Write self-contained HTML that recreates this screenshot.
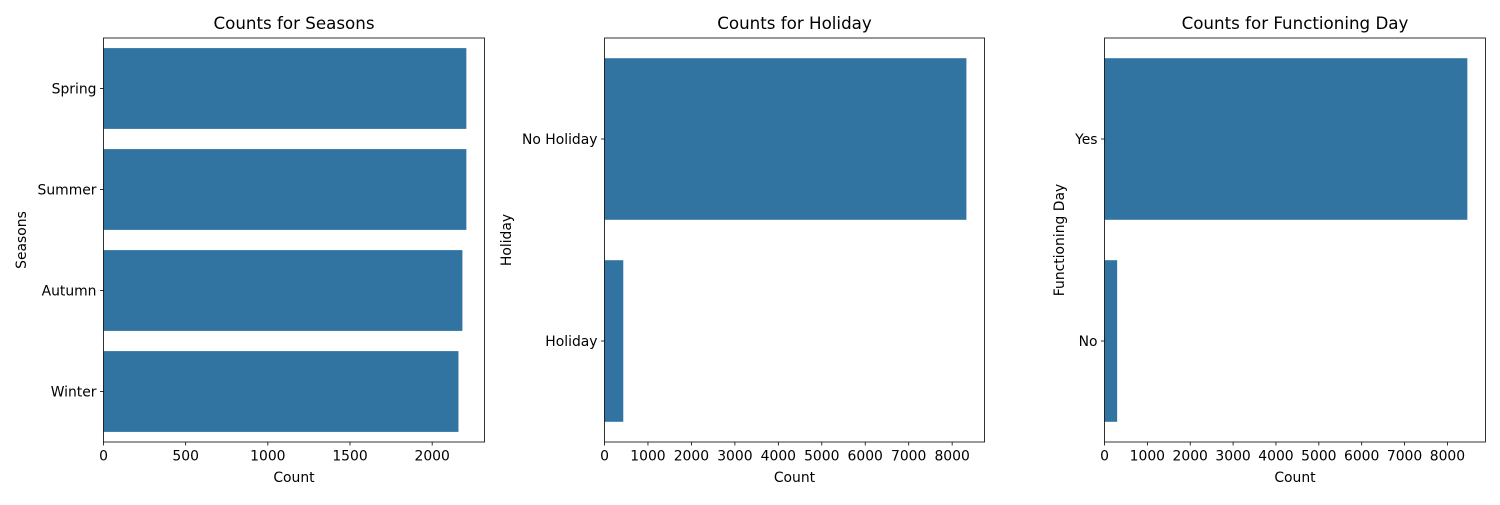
<!DOCTYPE html>
<html><head><meta charset="utf-8"><style>
body{margin:0;background:#fff;}
svg{font-family:"DejaVu Sans","Liberation Sans",sans-serif;}
</style></head><body>
<svg id="chart" width="1500" height="500" xmlns="http://www.w3.org/2000/svg"></svg>
<script>
const seasonCats=["Spring","Summer","Autumn","Winter"];
const seasonVals=[2208,2208,2184,2160];
const seasonTicks=[0,500,1000,1500,2000];
const holidayCats=["No Holiday","Holiday"];
const holidayVals=[8328,432];
const holidayTicks=[0,1000,2000,3000,4000,5000,6000,7000,8000];
const funcCats=["Yes","No"];
const funcVals=[8465,295];
const funcTicks=[0,1000,2000,3000,4000,5000,6000,7000,8000];

const svg=document.getElementById('chart');
const NS='http://www.w3.org/2000/svg';
function mk(tag,attrs,parent,text){const e=document.createElementNS(NS,tag);for(const k in attrs)e.setAttribute(k,attrs[k]);if(text!==undefined)e.textContent=text;(parent||svg).appendChild(e);return e;}

const panels=[
 {left:103.5,right:484.5,title:"Counts for Seasons",ylab:"Seasons",ylabX:26,cats:seasonCats,vals:seasonVals,ticks:seasonTicks,slug:"seasons"},
 {left:604.5,right:984.5,title:"Counts for Holiday",ylab:"Holiday",ylabX:511,cats:holidayCats,vals:holidayVals,ticks:holidayTicks,slug:"holiday"},
 {left:1104.5,right:1485.5,title:"Counts for Functioning Day",ylab:"Functioning Day",ylabX:1064,cats:funcCats,vals:funcVals,ticks:funcTicks,slug:"functioning-day"}
];
const plotTop=38, plotBottom=442;
const TF='13.9', HF='16.7';
panels.forEach(p=>{
  const g=mk('g',{},svg);
  
  
  const xmax=Math.max(...p.vals)*1.05;
  const xs=v=>p.left+(v/xmax)*(p.right-p.left);
  const n=p.cats.length, band=(plotBottom-plotTop)/n;
  const ys=i=>plotTop+band*i;
  p.cats.forEach((c,i)=>{
    const r=mk('rect',{x:xs(0),y:ys(i)+band*0.1,width:xs(p.vals[i])-xs(0),height:band*0.8,fill:'#3274a1'},g);
    
    
    const yc=ys(i)+band/2;
    mk('line',{x1:p.left-3.5,x2:p.left,y1:yc,y2:yc,stroke:'#000','stroke-width':0.8},g);
    const t=mk('text',{x:p.left-7,y:yc+5,'font-size':TF,'text-anchor':'end'},g,c);
    
    
  });
  p.ticks.forEach(v=>{
    const x=xs(v);
    mk('line',{x1:x,x2:x,y1:plotBottom,y2:plotBottom+3.5,stroke:'#000','stroke-width':0.8},g);
    const t=mk('text',{x:x,y:plotBottom+18.5,'font-size':TF,'text-anchor':'middle'},g,String(v));
    
    
  });
  mk('rect',{x:p.left,y:plotTop,width:p.right-p.left,height:plotBottom-plotTop,fill:'none',stroke:'#000','stroke-width':0.8},g);
  const tt=mk('text',{x:(p.left+p.right)/2,y:plotTop-9,'font-size':HF,'text-anchor':'middle'},g,p.title);
  
  
  const xl=mk('text',{x:(p.left+p.right)/2,y:482,'font-size':TF,'text-anchor':'middle'},g,'Count');
  
  
  const yc=(plotTop+plotBottom)/2;
  const yl=mk('text',{x:p.ylabX,y:yc,'font-size':TF,'text-anchor':'middle',transform:`rotate(-90 ${p.ylabX} ${yc})`},g,p.ylab);
  
  
});
</script>
</body></html>
